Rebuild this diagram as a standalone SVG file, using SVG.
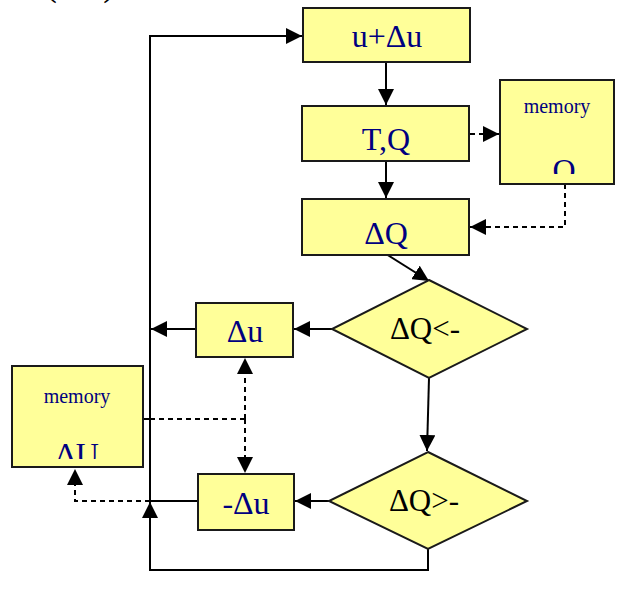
<svg xmlns="http://www.w3.org/2000/svg" width="619" height="599" viewBox="0 0 619 599">
<style>
.box{fill:#FFFF99;stroke:#1a1a1a;stroke-width:2}
.t{font-family:"Liberation Serif","Times New Roman",serif;font-size:32px;fill:#000080;text-anchor:middle}
.dt{font-family:"Liberation Serif","Times New Roman",serif;font-size:31px;fill:#000000;text-anchor:middle}
.m{font-family:"Liberation Serif","Times New Roman",serif;font-size:20px;fill:#000080;text-anchor:middle}
.ln{fill:none;stroke:#000;stroke-width:2}
.ds{fill:none;stroke:#000;stroke-width:2;stroke-dasharray:5 4}
</style>
<defs>
<marker id="ah" viewBox="0 0 10 10" refX="10" refY="5" markerWidth="16" markerHeight="16" markerUnits="userSpaceOnUse" orient="auto">
<path d="M0,0 L10,5 L0,10 z" fill="#000"/>
</marker>
<clipPath id="cq"><rect x="500" y="80" width="114" height="94"/></clipPath>
<clipPath id="cu"><rect x="12" y="366" width="131" height="93"/></clipPath>
</defs>
<text x="80" y="-4" font-family="Liberation Serif, serif" font-size="34" fill="#000" text-anchor="middle">(ΔU)</text>
<g id="connectors">
<path class="ln" d="M150,503 L150,36 L302,36" marker-end="url(#ah)"/>
<path class="ln" d="M386,62 L386,105" marker-end="url(#ah)"/>
<path class="ln" d="M386,161 L386,198" marker-end="url(#ah)"/>
<path class="ds" d="M470,134 L499,134" marker-end="url(#ah)"/>
<path class="ds" d="M565,184 L565,227 L470,227" marker-end="url(#ah)"/>
<path class="ln" d="M386,254 L429,281" marker-end="url(#ah)"/>
<path class="ln" d="M332,329 L294,329" marker-end="url(#ah)"/>
<path class="ln" d="M196,329 L151,329" marker-end="url(#ah)"/>
<path class="ln" d="M429,378 L427,451" marker-end="url(#ah)"/>
<path class="ln" d="M329,501 L295,501" marker-end="url(#ah)"/>
<path class="ln" d="M198,501 L150,501"/>
<path class="ds" d="M150,501 L75,501 L75,469" marker-end="url(#ah)"/>
<path class="ln" d="M143,419 L150,419"/>
<path class="ds" d="M150,419 L245,419"/>
<path class="ds" d="M245,419 L245,358" marker-end="url(#ah)"/>
<path class="ds" d="M245,419 L245,473" marker-end="url(#ah)"/>
<path class="ln" d="M428,549 L428,570 L150,570 L150,502" marker-end="url(#ah)"/>
</g>
<g id="n-upd">
<rect class="box" x="303" y="8" width="167" height="54"/>
<text class="t" x="387" y="47">u+Δu</text>
</g>
<g id="n-tq">
<rect class="box" x="302" y="106" width="167" height="55"/>
<text class="t" x="386" y="150">T,Q</text>
</g>
<g id="n-dq">
<rect class="box" x="302" y="199" width="167" height="56"/>
<text class="t" x="386" y="244">ΔQ</text>
</g>
<g id="n-memq">
<rect class="box" x="500" y="80" width="114" height="104"/>
<text class="m" x="557" y="113">memory</text>
<text class="t" x="564" y="181" clip-path="url(#cq)">Q</text>
</g>
<g id="n-d1">
<polygon class="box" points="429,280 527,329 429,378 332,329"/>
<text class="dt" x="425" y="339">ΔQ&lt;-</text>
</g>
<g id="n-du">
<rect class="box" x="196" y="303" width="97" height="54"/>
<text class="t" x="245" y="342">Δu</text>
</g>
<g id="n-memu">
<rect class="box" x="12" y="366" width="131" height="101"/>
<text class="m" x="77" y="403">memory</text>
<text class="t" x="77" y="465" clip-path="url(#cu)">ΔU</text>
</g>
<g id="n-d2">
<polygon class="box" points="428,452 527,501 428,549 329,501"/>
<text class="dt" x="424" y="511">ΔQ&gt;-</text>
</g>
<g id="n-mdu">
<rect class="box" x="198" y="474" width="96" height="56"/>
<text class="t" x="246" y="514">-Δu</text>
</g>
</svg>
